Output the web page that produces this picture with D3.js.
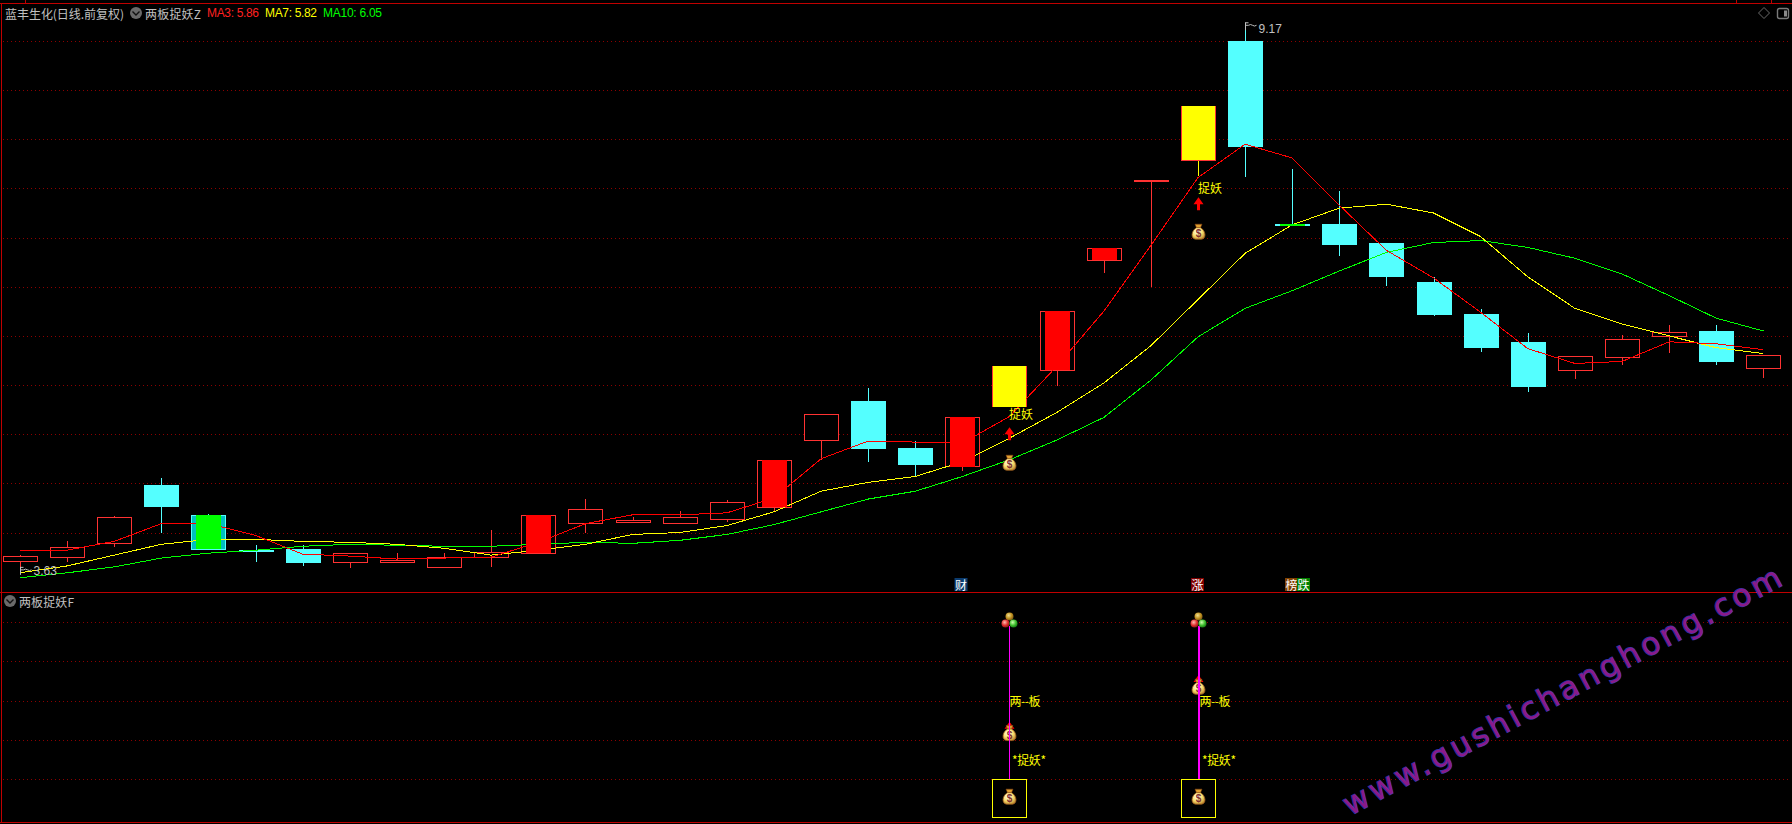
<!DOCTYPE html>
<html><head><meta charset="utf-8">
<style>html,body{margin:0;padding:0;background:#000;overflow:hidden}svg{display:block}
text{font-family:"Liberation Sans",Arial,sans-serif;font-size:12px}
.cjk{font-family:"Noto Sans CJK SC","Noto Sans",sans-serif}</style>
<script src="https://cdn.jsdelivr.net/npm/d3@7/dist/d3.min.js"></script>
</head><body><svg id="c" width="1792" height="824"></svg>
<script>
// One entry per trading day
const opens =[3.71,3.75,3.90,4.48,4.18,3.82,3.83,3.70,3.70,3.65,3.75,3.79,4.10,4.11,4.10,4.14,4.26,4.95,5.34,4.86,4.67,5.28,5.65,6.77,7.58,7.79,9.00,7.14,7.14,6.94,6.55,6.22,5.94,5.66,5.79,6.00,6.05,5.68];
const highs =[3.77,3.91,4.17,4.55,4.19,3.87,3.87,3.79,3.79,3.79,4.03,4.18,4.34,4.16,4.22,4.33,4.74,5.21,5.47,4.93,5.17,5.69,6.25,6.89,7.59,8.34,9.17,7.70,7.47,6.94,6.60,6.27,6.03,5.80,6.01,6.11,6.11,5.81];
const lows  =[3.63,3.70,3.85,4.00,3.83,3.70,3.66,3.64,3.69,3.65,3.65,3.78,4.00,4.10,4.10,4.11,4.21,4.74,4.72,4.57,4.63,5.28,5.49,6.64,6.50,7.63,7.62,7.13,6.81,6.51,6.20,5.84,5.43,5.56,5.70,5.83,5.70,5.57];
const closes=[3.76,3.85,4.16,4.27,3.83,3.81,3.70,3.79,3.72,3.75,3.80,4.18,4.24,4.13,4.16,4.31,4.74,5.21,4.86,4.70,5.17,5.69,6.25,6.89,7.59,8.34,7.93,7.13,6.94,6.60,6.22,5.88,5.49,5.80,5.97,6.04,5.74,5.81];
const ma3 =[3.82,3.82,3.91,4.09,4.09,3.97,3.78,3.76,3.73,3.74,3.75,3.90,4.09,4.18,4.18,4.20,4.35,4.75,4.93,4.92,4.91,5.18,5.69,6.25,6.92,7.61,7.95,7.81,7.33,6.87,6.59,6.24,5.87,5.72,5.74,5.94,5.92,5.86];
const ma7 =[3.59,3.66,3.77,3.88,3.93,3.93,3.91,3.90,3.88,3.84,3.77,3.82,3.88,3.98,4.00,4.07,4.21,4.42,4.51,4.57,4.72,4.96,5.22,5.52,5.90,6.37,6.84,7.13,7.30,7.34,7.25,7.01,6.60,6.28,6.12,6.00,5.88,5.82];
const ma10=[3.54,3.59,3.65,3.74,3.79,3.82,3.86,3.88,3.87,3.86,3.86,3.88,3.90,3.89,3.92,3.98,4.08,4.21,4.34,4.42,4.57,4.74,4.94,5.17,5.55,5.99,6.28,6.46,6.66,6.85,6.95,6.97,6.90,6.79,6.63,6.41,6.18,6.05];
// Days the indicator repaints
const redDays=[11,16,20,22,23];
const yellowDays=[21,25];
const greenDays=[4,27];
const signalDays=[21,25];
// Main panel signal levels (text, arrow tip, money bag), per signal day
const signalTextLevels=[5.21,7.51];
const signalArrowLevels=[5.07,7.41];
const signalBagLevels=[4.71,7.06];
// Lower panel levels
const subBagLevels=[2.17,3.35];
const subArrowLevels=[2.46,3.65];
const subLineWidths=[1,2];
const subTopLevel=4.9, subBallLevel=5.05, subBoxBag=0.55, subLabelA=3.0, subLabelB=1.5;
const gridPrices=[9,8.5,8,7.5,7,6.5,6,5.5,5,4.5,4];
const gridSub=[1,2,3,4,5];
const title="蓝丰生化(日线.前复权)", indicatorMain="两板捉妖Z", indicatorSub="两板捉妖F";
const maLabels=[["MA3: 5.86","#ff2020",207,52],["MA7: 5.82","#ffff00",265,52],["MA10: 6.05","#00ff00",323,59]];
const tags=[["财",20,"#0b3b6e",-1],["涨",25,"#800000",-0.5],["榜",27,"#804000",-0.5],["跌",27,"#008000",11.5]];

const W=1792,H=824;
const svg=d3.select("#c");
const x=d3.scaleLinear().domain([0,37]).range([20,1763.4]);
const y=d3.scaleLinear().domain([9,4]).range([41,532.5]);
const ys=d3.scaleLinear().domain([0,5]).range([818.25,622]);
const defs=svg.append("defs");
const rg=(id,c1,c2,c3)=>{const g=defs.append("radialGradient").attr("id",id).attr("cx","40%").attr("cy","35%").attr("r","70%");
  g.append("stop").attr("offset","0%").attr("stop-color",c1);g.append("stop").attr("offset","55%").attr("stop-color",c2);g.append("stop").attr("offset","100%").attr("stop-color",c3);};
rg("bag","#fffff0","#f8e070","#c08830");rg("ballY","#f0e090","#c09020","#705010");rg("ballR","#ffc0b0","#e03030","#801010");rg("ballG","#d0ffb0","#40c030","#107010");

svg.append("rect").attr("width",W).attr("height",H).attr("fill","#000");
const grid=(sel)=>sel.call(g=>g.select(".domain").remove())
  .call(g=>g.selectAll("line").attr("stroke","#8c0000").attr("stroke-width",1).attr("stroke-dasharray","1 3").attr("shape-rendering","crispEdges"));
svg.append("g").attr("transform","translate(3,0)").call(d3.axisRight(y).tickValues(gridPrices).tickSize(1786).tickFormat("")).call(grid);
svg.append("g").attr("transform","translate(3,0)").call(d3.axisRight(ys).tickValues(gridSub).tickSize(1786).tickFormat("")).call(grid);

// frame
const frame=svg.append("g").attr("stroke","#c00000").attr("shape-rendering","crispEdges");
[[0,3.5,W,3.5],[0,592.5,W,592.5],[0,822.5,W,822.5],[1.5,3,1.5,823],[25.5,0,25.5,3],[1736.5,0,1736.5,3],[1771.5,0,1771.5,3]]
 .forEach(a=>frame.append("line").attr("x1",a[0]).attr("y1",a[1]).attr("x2",a[2]).attr("y2",a[3]));

const days=d3.range(opens.length);
const isDown=i=>closes[i]<opens[i];
const col=i=>isDown(i)?"#54ffff":"#ff3232";
const bw=35;
const candles=svg.append("g").attr("shape-rendering","crispEdges");
candles.selectAll("line.w").data(days).join("line").attr("class","w")
 .attr("x1",i=>Math.round(x(i))+.5).attr("x2",i=>Math.round(x(i))+.5)
 .attr("y1",i=>y(highs[i])).attr("y2",i=>y(lows[i]))
 .attr("stroke",i=>yellowDays.includes(i)?"#ffff00":col(i));
candles.selectAll("rect.b").data(days).join("rect").attr("class","b")
 .attr("x",i=>Math.round(x(i))-17+.5).attr("width",bw-1)
 .attr("y",i=>Math.round(y(Math.max(opens[i],closes[i])))+.5)
 .attr("height",i=>Math.max(1,Math.round(Math.abs(y(opens[i])-y(closes[i])))))
 .attr("fill",i=>isDown(i)?"#54ffff":"#000").attr("stroke",col);
// teal under-body of the green repaint
const teal=greenDays.filter(i=>Math.abs(y(opens[i])-y(closes[i]))>4);
candles.selectAll("rect.t").data(teal).join("rect").attr("class","t")
 .attr("x",i=>Math.round(x(i))-16).attr("width",33)
 .attr("y",i=>y(opens[i])+1).attr("height",i=>y(closes[i])-y(opens[i])-1).attr("fill","#00c0c0");

// moving averages
const line=d3.line().x((d,i)=>x(i)).y(d=>y(d));
[[ma10,"#00ff00"],[ma7,"#ffff00"],[ma3,"#ff0000"]].forEach(([s,c])=>
  svg.append("path").attr("d",line(s)).attr("fill","none").attr("stroke",c).attr("stroke-width",1).attr("shape-rendering","crispEdges"));

// repaint bars drawn over the lines
const over=svg.append("g").attr("shape-rendering","crispEdges");
over.selectAll("rect.r").data(redDays).join("rect").attr("class","r")
 .attr("x",i=>Math.round(x(i))-12).attr("width",25)
 .attr("y",i=>y(closes[i])).attr("height",i=>y(opens[i])-y(closes[i])).attr("fill","#ff0000");
over.selectAll("rect.y").data(yellowDays).join("rect").attr("class","y")
 .attr("x",i=>Math.round(x(i))-16).attr("width",33)
 .attr("y",i=>y(closes[i])).attr("height",i=>y(opens[i])-y(closes[i])).attr("fill","#ffff00");
over.selectAll("rect.g").data(greenDays).join("rect").attr("class","g")
 .attr("x",i=>Math.round(x(i))-12).attr("width",25)
 .attr("y",i=>y(opens[i])).attr("height",i=>Math.max(2,y(closes[i])-y(opens[i]))).attr("fill","#00ff00");

// icons
function bag(cx,cy){
  const g=svg.append("g").attr("transform",`translate(${cx},${cy})`);
  g.append("path").attr("d","M-3.5,-7.5 L3.5,-7.5 L2,-4 L-2,-4 Z").attr("fill","#e0a030").attr("stroke","#804010").attr("stroke-width",.6);
  g.append("path").attr("d","M-2,-4 C-7.5,-1 -8,7 -3,7.5 H3 C8,7 7.5,-1 2,-4 Z").attr("fill","url(#bag)").attr("stroke","#a06020").attr("stroke-width",.8);
  g.append("text").attr("x",0).attr("y",5.5).attr("text-anchor","middle").attr("fill","#803030").style("font-size","10px").style("font-weight","bold").text("$");
}
function arrow(cx,top,shaft){
  svg.append("path").attr("d",`M${cx},${top} L${cx+5},${top+7} H${cx+1.5} V${top+shaft} H${cx-1.5} V${top+7} H${cx-5} Z`).attr("fill","#ff0000");
}
function cjk(t,px,py,fill,len){
  const e=svg.append("text").attr("class","cjk").attr("x",px).attr("y",py).attr("dominant-baseline","central").attr("fill",fill).text(t);
  if(len)e.attr("textLength",len).attr("lengthAdjust","spacing");
  return e;
}
// main panel signals
signalDays.forEach((d,k)=>{
  const cx=Math.round(x(d))+.5;
  arrow(cx,y(signalArrowLevels[k]),13);
  bag(cx,y(signalBagLevels[k]));
  cjk("捉妖",cx-.5,y(signalTextLevels[k]),"#ffff00",24);
});
// lower panel signals
signalDays.forEach((d,k)=>{
  const cx=Math.round(x(d))+.5;
  svg.append("rect").attr("x",cx-17.5).attr("width",34).attr("y",ys(1)).attr("height",ys(0)-ys(1)-.5).attr("fill","none").attr("stroke","#ffff00").attr("shape-rendering","crispEdges");
  arrow(cx,ys(subArrowLevels[k]),13);
  bag(cx,ys(subBagLevels[k]));
  svg.append("line").attr("x1",cx).attr("x2",cx).attr("y1",ys(subTopLevel)).attr("y2",ys(1)).attr("stroke","#ff00ff").attr("stroke-width",subLineWidths[k]).attr("shape-rendering","crispEdges");
  [["#ballY",0,-3.5],["#ballR",-4,3.5],["#ballG",4,3.5]].forEach(([f,dx,dy])=>
    svg.append("circle").attr("cx",cx+dx).attr("cy",ys(subBallLevel)+dy).attr("r",4).attr("fill",`url(${f})`));
  bag(cx,ys(subBoxBag));
  cjk("两--板",cx+k,ys(subLabelA),"#ffff00",31);
  cjk("*捉妖*",cx+2.5+k,ys(subLabelB),"#ffff00",34);
});
// tags above the divider
tags.forEach(([t,d,bg,off])=>{
  const cx=Math.round(x(d))+off;
  svg.append("rect").attr("x",cx-6.5).attr("y",578).attr("width",13).attr("height",13).attr("fill",bg);
  svg.append("text").attr("class","cjk").attr("x",cx).attr("y",584.5).attr("text-anchor","middle").attr("dominant-baseline","central").attr("fill","#fff").text(t);
});
// extreme flags
function flag(d,price,valText,dy){
  const fx=Math.round(x(d))+.5, fy=y(price);
  svg.append("path").attr("d",`M${fx},${fy-2} v8 M${fx},${fy-1.5} h3 M${fx},${fy+1} h3 q2,-1.5 4,0 t4,0`).attr("fill","none").attr("stroke","#c0c0c0").attr("stroke-width",1);
  svg.append("text").attr("x",fx+13).attr("y",fy+dy).attr("dominant-baseline","central").attr("fill","#c0c0c0").text(valText);
}
flag(26,d3.max(highs),d3.max(highs).toFixed(2),5);
flag(0,d3.min(lows),d3.min(lows).toFixed(2),2);

// header
function chevron(cx,cy){
  svg.append("circle").attr("cx",cx).attr("cy",cy).attr("r",6).attr("fill","#6a6a6a");
  svg.append("path").attr("d",`M${cx-3.5},${cy-1.5} L${cx},${cy+2} L${cx+3.5},${cy-1.5}`).attr("fill","none").attr("stroke","#111").attr("stroke-width",1.4);
}
cjk(title,5,13,"#c0c0c0",119);
chevron(136,13);
cjk(indicatorMain,145,13,"#c0c0c0",56);
maLabels.forEach(([t,c,px,len])=>svg.append("text").attr("x",px).attr("y",13).attr("dominant-baseline","central").attr("fill",c).attr("textLength",len).text(t));
chevron(10,601);
cjk(indicatorSub,19,601,"#c0c0c0",55);
svg.append("path").attr("d","M1764,7.5 L1769.5,13 L1764,18.5 L1758.5,13 Z").attr("fill","none").attr("stroke","#6a6a6a");
svg.append("rect").attr("x",1777.5).attr("y",8.5).attr("width",11).attr("height",10).attr("rx",2).attr("fill","none").attr("stroke","#7a7a7a").attr("stroke-width",1.4);
svg.append("rect").attr("x",1784).attr("y",10.5).attr("width",3).attr("height",6).attr("fill","#8a8a8a");

// watermark
svg.append("text").attr("transform","translate(1350,816) rotate(-28.06)")
 .attr("textLength",492).attr("lengthAdjust","spacing")
 .attr("fill","#8a1a8a").attr("stroke","#3535a8").attr("stroke-width",1.4).style("paint-order","stroke")
 .style("font-family","'DejaVu Sans'").style("font-size","31px").text("www.gushichanghong.com");
</script></body></html>
